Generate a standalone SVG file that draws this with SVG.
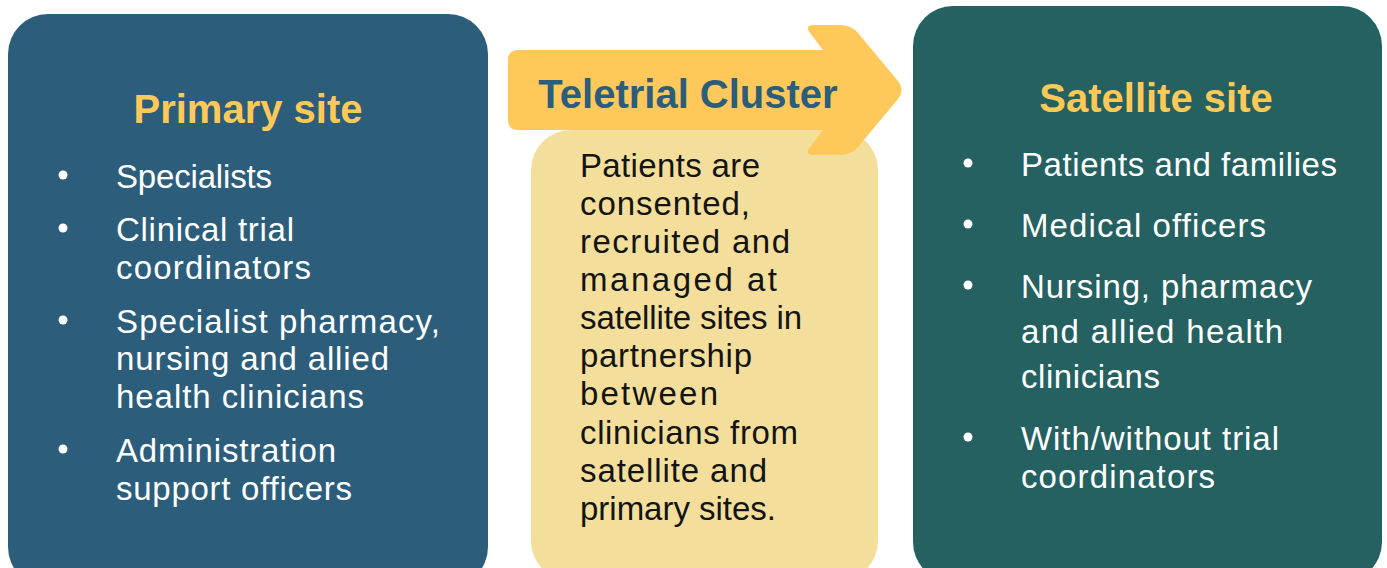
<svg xmlns="http://www.w3.org/2000/svg" width="1387" height="568" viewBox="0 0 1387 568">
  <style>
    .title { font-family: "Liberation Sans", Arial, sans-serif; font-weight: bold; font-size: 40px; text-anchor: middle; }
    .gold { fill: #FEC957; }
    .body { font-family: "Liberation Sans", Arial, sans-serif; font-size: 33px; }
    .light { fill: #FFFFFF; }
    .dark { fill: #141414; }
    .dot { fill: #FFFFFF; }
  </style>
  <defs>
    <filter id="soft" x="-5%" y="-10%" width="110%" height="120%">
      <feGaussianBlur stdDeviation="0.7"/>
    </filter>
  </defs>
  <rect width="1387" height="568" fill="#FFFFFF"/>

  <!-- Primary site panel -->
  <g id="primary-site">
    <rect x="8" y="14" width="480" height="573" rx="40" ry="40" fill="#2C5D7B"/>
    <text class="title gold" x="248" y="123">Primary site</text>
    <circle class="dot" cx="63" cy="175" r="4.5"/>
    <circle class="dot" cx="63" cy="228" r="4.5"/>
    <circle class="dot" cx="63" cy="320" r="4.5"/>
    <circle class="dot" cx="63" cy="449" r="4.5"/>
    <g class="body light" lengthAdjust="spacing">
      <text x="116" y="188" textLength="156">Specialists</text>
      <text x="116" y="241" textLength="178">Clinical trial</text>
      <text x="116" y="279" textLength="195">coordinators</text>
      <text x="116" y="333" textLength="324">Specialist pharmacy,</text>
      <text x="116" y="370" textLength="273">nursing and allied</text>
      <text x="116" y="408" textLength="248">health clinicians</text>
      <text x="116" y="462" textLength="220">Administration</text>
      <text x="116" y="500" textLength="236">support officers</text>
    </g>
  </g>

  <!-- Teletrial cluster: description card under the banner arrow -->
  <g id="teletrial-cluster">
    <rect x="531" y="130" width="347" height="451" rx="40" ry="40" fill="#F3DF9B"/>
    <g class="body dark">
      <text x="580" y="177" textLength="180">Patients are</text>
      <text x="580" y="215" textLength="170">consented,</text>
      <text x="580" y="253" textLength="210">recruited and</text>
      <text x="580" y="291" textLength="197">managed at</text>
      <text x="580" y="329" textLength="222">satellite sites in</text>
      <text x="580" y="367" textLength="172">partnership</text>
      <text x="580" y="405" textLength="138">between</text>
      <text x="580" y="444" textLength="218">clinicians from</text>
      <text x="580" y="482" textLength="187">satellite and</text>
      <text x="580" y="520" textLength="196">primary sites.</text>
    </g>
  </g>

  <!-- Banner arrow pointing from primary to satellite -->
  <g id="connectors">
    <path filter="url(#soft)" fill="#FEC95A"
          d="M518,50 L823,50 L810,33 Q804,25 814,25 L840,25 Q851,25 858,33 L898,81 Q905,90 898,99 L858,147 Q851,155 840,155 L814,155 Q804,155 810,147 L823,130 L518,130 Q508,130 508,120 L508,60 Q508,50 518,50 Z"/>
    <text class="title" x="688" y="108" fill="#2C5D7B">Teletrial Cluster</text>
  </g>

  <!-- Satellite site panel -->
  <g id="satellite-site">
    <rect x="913" y="6" width="469" height="576" rx="40" ry="40" fill="#256160"/>
    <text class="title gold" x="1156" y="112">Satellite site</text>
    <circle class="dot" cx="968" cy="163" r="4.5"/>
    <circle class="dot" cx="968" cy="224" r="4.5"/>
    <circle class="dot" cx="968" cy="285" r="4.5"/>
    <circle class="dot" cx="968" cy="437" r="4.5"/>
    <g class="body light">
      <text x="1021" y="176" textLength="316">Patients and families</text>
      <text x="1021" y="237" textLength="245">Medical officers</text>
      <text x="1021" y="298" textLength="291">Nursing, pharmacy</text>
      <text x="1021" y="343" textLength="262">and allied health</text>
      <text x="1021" y="388" textLength="139">clinicians</text>
      <text x="1021" y="450" textLength="258">With/without trial</text>
      <text x="1021" y="488" textLength="194">coordinators</text>
    </g>
  </g>
</svg>
